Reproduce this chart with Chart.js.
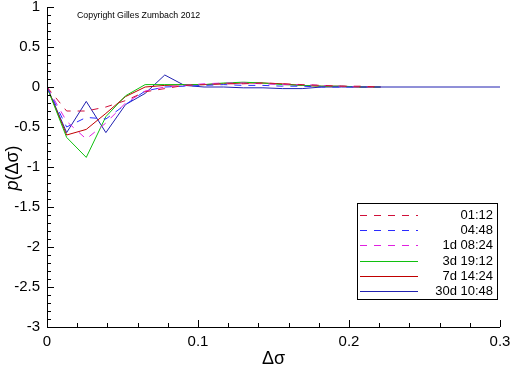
<!DOCTYPE html>
<html>
<head>
<meta charset="utf-8">
<script src="https://cdn.jsdelivr.net/npm/chart.js@4.4.1/dist/chart.umd.min.js"></script>
<style>
  html, body { margin: 0; padding: 0; background: #fff; }
  #wrap { width: 512px; height: 366px; position: relative; }
</style>
</head>
<body>
<div id="wrap"><canvas id="pdfChart"></canvas></div>
<script>
/* p(dsigma) curves for several time horizons */

const dSigma = [0, 0.013, 0.026, 0.039, 0.052, 0.065, 0.078, 0.091, 0.104, 0.117,
  0.13, 0.143, 0.156, 0.169, 0.182, 0.195, 0.208, 0.221, 0.3];

const p0112 = [0, -0.3, -0.3, -0.25, -0.17, -0.06, -0.02, 0.02, 0.03, 0.04, 0.04, 0.05, 0.04, 0.03, 0.02, 0.01, 0.01, 0, null];
const p0448 = [0, -0.5, -0.38, -0.4, -0.22, -0.05, 0, 0.01, 0.02, 0.03, 0.02, 0.02, 0.01, 0.01, 0, 0, 0, 0, null];
const p1d0824 = [0, -0.43, -0.65, -0.45, -0.2, -0.05, 0, 0.02, 0.04, 0.05, 0.05, 0.04, 0.03, 0.03, 0.02, 0.01, 0, 0, null];
const p3d1912 = [0, -0.63, -0.88, -0.37, -0.11, 0.03, 0.03, 0.03, 0.03, 0.05, 0.06, 0.05, 0.03, 0.02, 0.01, 0.01, 0, 0, null];
const p7d1424 = [0, -0.6, -0.53, -0.33, -0.12, 0, 0.02, 0.03, 0.03, 0.04, 0.05, 0.05, 0.04, 0.02, 0.01, 0.01, 0, 0, null];
const p30d1048 = [0, -0.57, -0.18, -0.57, -0.22, -0.08, 0.15, 0.02, 0, 0, -0.01, -0.01, -0.02, -0.02, 0, 0, 0, 0, 0];

const seriesLabels = ['01:12', '04:48', '1d 08:24', '3d 19:12', '7d 14:24', '30d 10:48'];
const seriesValues = [p0112, p0448, p1d0824, p3d1912, p7d1424, p30d1048];
const seriesColors = ['#d0103a', '#2b2bff', '#e020e0', '#10c010', '#c00000', '#2020b0'];
const seriesDashed = [true, true, true, false, false, false];

const xTicks = [0, 0.1, 0.2, 0.3];
const yTicks = [1, 0.5, 0, -0.5, -1, -1.5, -2, -2.5, -3];

const FONT = '"Liberation Sans", Arial, sans-serif';

const datasets = seriesLabels.map((label, i) => ({
  label,
  data: dSigma.map((x, j) => ({ x, y: seriesValues[i][j] })),
  borderColor: seriesColors[i],
  borderWidth: 1,
  borderDash: seriesDashed[i] ? [7, 7] : [],
  pointRadius: 0,
  tension: 0,
  fill: false,
  spanGaps: false,
}));

// inward ticks, axis lines, y title, copyright note and boxed legend
const decorations = {
  id: 'decorations',
  afterDatasetsDraw(chart) {
    const { ctx, chartArea: a, scales: { x, y } } = chart;
    ctx.save();
    ctx.strokeStyle = '#000';
    ctx.lineWidth = 1;
    ctx.setLineDash([]);
    ctx.beginPath();
    ctx.moveTo(a.left + 0.5, a.top);
    ctx.lineTo(a.left + 0.5, a.bottom + 0.5);
    ctx.lineTo(a.right, a.bottom + 0.5);
    for (let i = 0; i <= 40; i++) {
      const v = -3 + i * 0.1;
      const py = Math.round(y.getPixelForValue(v)) + 0.5;
      const len = i % 5 === 0 ? 7 : 4;
      ctx.moveTo(a.left, py);
      ctx.lineTo(a.left + len, py);
    }
    for (let i = 0; i <= 15; i++) {
      const v = i * 0.02;
      const px = Math.round(x.getPixelForValue(v)) + 0.5;
      const len = i % 5 === 0 ? 7 : 4;
      ctx.moveTo(px, a.bottom);
      ctx.lineTo(px, a.bottom - len);
    }
    ctx.stroke();

    // y title: italic p, upright (Δσ)
    ctx.fillStyle = '#000';
    ctx.save();
    ctx.translate(13, (a.top + a.bottom) / 2 + 1);
    ctx.rotate(-Math.PI / 2);
    ctx.textBaseline = 'middle';
    ctx.textAlign = 'left';
    ctx.font = 'italic 18px ' + FONT;
    const pw = ctx.measureText('p').width;
    ctx.font = '18px ' + FONT;
    const rw = ctx.measureText('(Δσ)').width;
    const start = -(pw + rw) / 2;
    ctx.font = 'italic 18px ' + FONT;
    ctx.fillText('p', start, 0);
    ctx.font = '18px ' + FONT;
    ctx.fillText('(Δσ)', start + pw, 0);
    ctx.restore();

    ctx.font = '8.8px ' + FONT;
    ctx.textBaseline = 'middle';
    ctx.textAlign = 'left';
    ctx.fillText('Copyright Gilles Zumbach 2012', 77, 16);

    // legend
    const bx = 357.5, by = 203.5, bw = 140, bh = 96;
    ctx.fillStyle = '#fff';
    ctx.fillRect(bx, by, bw, bh);
    ctx.strokeStyle = '#000';
    ctx.strokeRect(bx, by, bw, bh);
    ctx.font = '13px ' + FONT;
    ctx.textAlign = 'right';
    seriesLabels.forEach((label, i) => {
      const ry = Math.round(215 + i * 15.2) + 0.5;
      ctx.strokeStyle = seriesColors[i];
      ctx.setLineDash(seriesDashed[i] ? [7, 7] : []);
      ctx.beginPath();
      ctx.moveTo(360, ry);
      ctx.lineTo(418, ry);
      ctx.stroke();
      ctx.setLineDash([]);
      ctx.fillStyle = '#000';
      ctx.fillText(label, 493, ry);
    });
    ctx.restore();
  },
};

const ctx = document.getElementById('pdfChart').getContext('2d');
new Chart(ctx, {
  type: 'line',
  data: { datasets },
  options: {
    responsive: true,
    maintainAspectRatio: false,
    animation: false,
    layout: { padding: { left: 0, right: 12, top: 7, bottom: 0 } },
    plugins: { legend: { display: false }, tooltip: { enabled: false } },
    scales: {
      x: {
        type: 'linear',
        min: 0,
        max: 0.3,
        afterBuildTicks: (s) => { s.ticks = xTicks.map(v => ({ value: v })); },
        afterFit: (s) => { s.height = 39; s.paddingLeft = 0; s.paddingRight = 0; },
        grid: { display: false, drawTicks: false },
        border: { display: false },
        ticks: {
          color: '#000',
          padding: 6,
          font: { family: FONT, size: 15 },
          callback: (v) => String(v),
        },
        title: {
          display: true,
          text: 'Δσ',
          color: '#000',
          padding: { top: 8, bottom: -2 },
          font: { family: FONT, size: 18, lineHeight: 1 },
        },
      },
      y: {
        type: 'linear',
        min: -3,
        max: 1,
        afterBuildTicks: (s) => { s.ticks = yTicks.map(v => ({ value: v })); },
        afterFit: (s) => { s.width = 47; s.paddingTop = 0; s.paddingBottom = 0; },
        grid: { display: false, drawTicks: false },
        border: { display: false },
        ticks: {
          color: '#000',
          padding: 7,
          font: { family: FONT, size: 15 },
          callback: (v) => String(v),
        },
        title: { display: false },
      },
    },
  },
  plugins: [decorations],
});
</script>
</body>
</html>
